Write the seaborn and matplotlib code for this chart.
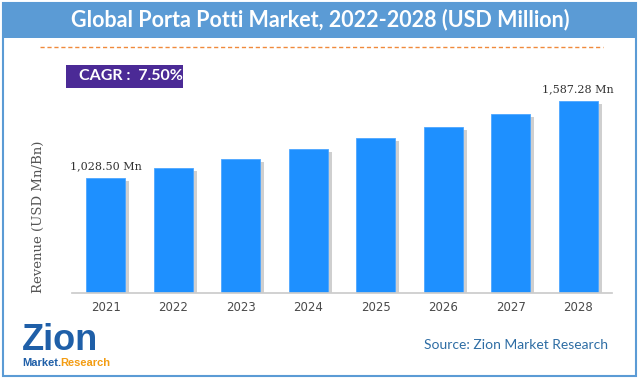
import matplotlib.pyplot as plt
import matplotlib.patheffects as pe
import pandas as pd
import seaborn as sns
from matplotlib.lines import Line2D
from matplotlib.patches import Rectangle

years = ["2021", "2022", "2023", "2024", "2025", "2026", "2027", "2028"]
revenue = [1028.50, 1101, 1166, 1239, 1319, 1399, 1493, 1587.28]
labels = {0: "1,028.50 Mn", 7: "1,587.28 Mn"}
title = "Global Porta Potti Market, 2022-2028 (USD Million)"
cagr = "CAGR :  7.50%"
source = "Source: Zion Market Research"

W, H = 639, 382
sns.set_theme(style="white")
plt.rcParams["font.family"] = ["DejaVu Sans"]

fig = plt.figure(figsize=(W / 100, H / 100), dpi=100)


def fx(px):
    return px / W


def fy(py):
    return 1 - py / H


# frame and title band
fig.add_artist(Rectangle((fx(3), fy(376)), fx(633), (373) / H, transform=fig.transFigure,
                         facecolor="none", edgecolor="#5B9BD5", linewidth=1.5))
fig.add_artist(Rectangle((fx(3), fy(38)), fx(633), 35 / H, transform=fig.transFigure,
                         facecolor="#5B9BD5", edgecolor="none"))
fig.text(fx(320), fy(20), title, color="white", fontsize=15.5, fontweight="bold",
         family="Lato", ha="center", va="center")
fig.add_artist(Line2D([fx(40), fx(603)], [fy(47), fy(47)], transform=fig.transFigure,
                      color="#F08A3C", linewidth=1, linestyle=(0, (3, 2))))

# CAGR box
fig.add_artist(Rectangle((fx(66), fy(88)), fx(117), 23 / H, transform=fig.transFigure,
                         facecolor="#4B2A96", edgecolor="none"))
fig.text(fx(79), fy(76), cagr, color="white", fontsize=11.5, fontweight="bold",
         family="Lato", ha="left", va="center")

ax = fig.add_axes([fx(72), fy(293), fx(540), (293 - 80) / H])
df = pd.DataFrame({"year": years, "revenue": revenue})
sns.barplot(data=df, x="year", y="revenue", color="#1E90FF", saturation=1, width=0.58, ax=ax)
for bar in ax.patches:
    bar.set_path_effects([pe.SimplePatchShadow(offset=(3, -2), shadow_rgbFace="#777777", alpha=0.35),
                          pe.Normal()])
    bar.set_edgecolor("#4DA6FF")
    bar.set_linewidth(0.6)

ax.set_xlim(-0.5, 7.5)
ax.set_ylim(194, 1740)
ax.set_yticks([])
ax.set_xlabel("")
ax.set_ylabel("Revenue (USD Mn/Bn)", family="DejaVu Serif", fontsize=9.5, color="#555555")
ax.yaxis.set_label_coords(-0.05, 0.36)
for s in ["top", "right", "left"]:
    ax.spines[s].set_visible(False)
ax.spines["bottom"].set_color("#CCCCCC")
ax.tick_params(axis="x", length=0, labelsize=8.5, labelcolor="#4A4A4A", pad=6)
ax.patch.set_alpha(0)

for i, txt in labels.items():
    ax.annotate(txt, (i, revenue[i]), xytext=(0, 5), textcoords="offset points",
                ha="center", va="bottom", family="DejaVu Serif", fontsize=8, color="#333333")

# source and logo
fig.text(fx(608), fy(345), source, color="#2E6DA4", fontsize=10, family="Lato",
         ha="right", va="center")
fig.text(fx(22), fy(340), "Zion", color="#1F5FA8", fontsize=26, fontweight="bold",
         family="Liberation Sans", ha="left", va="center")
fig.text(fx(22), fy(363), "Market.", color="#1F5FA8", fontsize=8, fontweight="bold",
         family="Liberation Sans", ha="left", va="center")
fig.text(fx(60), fy(363), "Research", color="#F39C12", fontsize=8, fontweight="bold",
         family="Liberation Sans", ha="left", va="center")

fig.savefig("out.png", dpi=100)
